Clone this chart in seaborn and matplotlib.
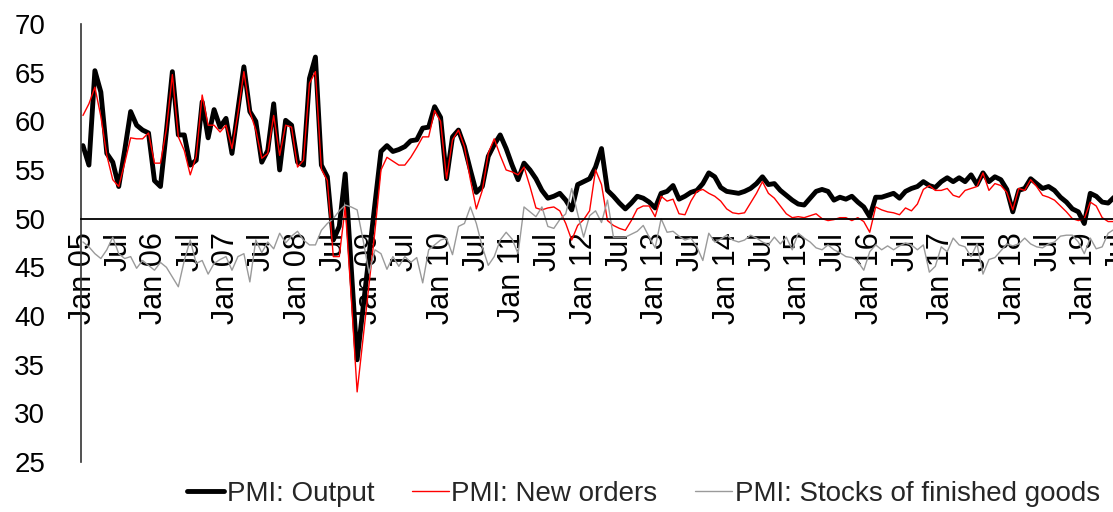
import seaborn as sns
import matplotlib.pyplot as plt
import numpy as np
import pandas as pd

# Monthly PMI readings, Jan 2005 - Jun 2019
output = [
    57.5, 55.5, 65.2, 63.0, 56.7, 55.8, 53.3, 57.0, 61.0, 59.6, 59.1, 58.8,  # 2005
    53.9, 53.3, 59.0, 65.1, 58.6, 58.6, 55.5, 56.0, 62.0, 58.3, 61.2, 59.4,  # 2006
    60.3, 56.7, 61.2, 65.6, 61.0, 60.0, 55.8, 57.0, 61.8, 55.0, 60.1, 59.6,  # 2007
    55.8, 55.5, 64.4, 66.6, 55.5, 54.3, 47.8, 49.2, 54.6, 45.1, 35.5, 40.9,  # 2008
    46.2, 51.6, 56.9, 57.5, 56.9, 57.1, 57.4, 58.0, 58.1, 59.3, 59.4, 61.5,  # 2009
    60.4, 54.1, 58.4, 59.1, 57.4, 55.0, 52.7, 53.3, 56.4, 57.6, 58.6, 57.2,  # 2010
    55.5, 54.0, 55.7, 55.0, 54.1, 52.9, 52.1, 52.3, 52.6, 51.9, 50.9, 53.5,  # 2011
    53.8, 54.1, 55.3, 57.2, 52.9, 52.3, 51.6, 51.0, 51.6, 52.3, 52.1, 51.7,  # 2012
    51.1, 52.6, 52.8, 53.4, 52.0, 52.3, 52.7, 52.9, 53.6, 54.7, 54.3, 53.2,  # 2013
    52.8, 52.7, 52.6, 52.8, 53.1, 53.6, 54.3, 53.5, 53.6, 52.9, 52.4, 51.9,  # 2014
    51.5, 51.4, 52.1, 52.8, 53.0, 52.8, 51.9, 52.2, 52.0, 52.3, 51.7, 51.2,  # 2015
    50.2, 52.2, 52.2, 52.4, 52.6, 52.1, 52.8, 53.1, 53.3, 53.8, 53.4, 53.2,  # 2016
    53.8, 54.2, 53.8, 54.2, 53.8, 54.5, 53.5, 54.7, 53.8, 54.3, 54.0, 53.0,  # 2017
    50.7, 52.9, 53.1, 54.1, 53.6, 53.1, 53.3, 52.9, 52.2, 51.7, 51.0, 50.7,  # 2018
    49.5, 52.6, 52.3, 51.7, 51.6, 52.2,                                      # 2019
]
new_orders = [
    60.6, 61.8, 63.5, 60.5, 56.5, 54.0, 53.3, 55.7, 58.3, 58.2, 58.2, 58.8,
    55.7, 55.7, 59.2, 64.8, 58.4, 57.0, 54.5, 56.4, 62.7, 59.6, 59.6, 58.9,
    59.6, 57.2, 60.8, 65.1, 61.0, 59.1, 56.2, 56.7, 60.6, 56.5, 59.6, 59.4,
    55.3, 56.0, 63.9, 65.1, 55.1, 53.9, 46.1, 46.1, 51.2, 42.0, 32.2, 37.7,
    43.3, 48.8, 55.0, 56.3, 55.9, 55.5, 55.5, 56.3, 57.3, 58.4, 58.4, 61.1,
    60.0, 54.1, 58.1, 59.1, 57.4, 54.0, 51.0, 52.9, 56.7, 58.2, 56.5, 55.0,
    54.8, 54.5, 55.3, 53.3, 51.1, 50.9, 51.1, 51.2, 50.8, 49.5, 47.8, 49.3,
    49.9, 50.8, 55.0, 53.5, 49.8, 49.3, 49.0, 48.8, 49.8, 51.0, 51.3, 51.3,
    50.2, 52.3, 51.8, 52.0, 50.5, 50.4, 51.8, 52.8, 53.0, 52.6, 52.3, 51.8,
    51.0, 50.6, 50.5, 50.6, 51.6, 52.6, 53.8, 52.6, 52.1, 51.3, 50.5, 50.1,
    50.2, 50.1, 50.3, 50.5, 50.0, 49.8, 49.9, 50.1, 50.1, 49.8, 50.1, 49.7,
    48.6, 51.2, 50.9, 50.7, 50.6, 50.4, 51.1, 50.8, 51.5, 53.0, 53.4, 52.9,
    52.9, 53.1, 52.4, 52.2, 52.9, 53.1, 53.3, 54.7, 52.9, 53.6, 53.4, 52.7,
    50.9, 53.1, 52.9, 54.0, 53.3, 52.4, 52.2, 51.9, 51.3, 50.7, 50.0, 49.8,
    50.0, 51.7, 51.3, 50.1, 49.7, 49.7,
]
stocks = [
    47.6, 47.1, 46.4, 45.9, 46.8, 48.1, 46.4, 45.9, 46.1, 44.9, 45.7, 45.2,
    44.7, 45.5, 45.0, 44.0, 43.0, 45.7, 47.8, 45.4, 45.7, 44.3, 45.4, 45.8,
    46.1, 44.7, 46.1, 46.4, 43.5, 47.8, 46.5, 47.6, 46.9, 48.5, 47.5, 48.2,
    48.7, 47.8, 47.3, 47.3, 48.8, 49.5, 50.0, 50.8, 51.4, 51.2, 50.9, 47.8,
    44.4, 46.8, 46.4, 44.8, 46.1, 45.1, 46.1, 45.5, 46.0, 43.4, 46.8, 47.3,
    47.8, 48.0, 46.3, 49.2, 49.5, 51.2, 49.5, 47.1, 45.2, 46.1, 47.8, 48.6,
    47.9, 46.4, 51.2, 50.7, 50.2, 51.2, 49.2, 49.0, 49.9, 50.5, 53.1, 50.5,
    48.1, 50.3, 50.8, 49.6, 51.9, 48.1, 48.1, 48.1, 48.4, 48.7, 49.3, 48.1,
    47.0, 50.0, 48.6, 48.7, 48.2, 47.8, 48.0, 47.1, 45.7, 48.5, 47.6, 47.9,
    48.3, 47.8, 47.6, 47.8, 48.3, 48.0, 47.6, 47.3, 48.1, 47.4, 48.1, 46.8,
    48.5, 48.0, 47.6, 47.0, 46.8, 47.3, 46.8, 46.5, 46.1, 46.0, 45.6, 44.7,
    46.6, 47.3, 46.8, 47.2, 46.8, 47.2, 47.5, 47.3, 46.8, 47.3, 44.5, 45.1,
    47.1, 46.6, 48.0, 47.3, 47.1, 46.1, 47.4, 44.3, 45.8, 46.0, 46.7, 47.4,
    47.2, 47.4, 48.0, 47.4, 47.1, 47.0, 47.4, 47.6, 48.2, 48.3, 48.3, 47.6,
    46.4, 48.0, 46.9, 47.1, 48.5, 48.9,
]
series_names = ["PMI: Output", "PMI: New orders", "PMI: Stocks of finished goods"]

df = pd.DataFrame({"t": np.arange(len(output)),
                   series_names[0]: output,
                   series_names[1]: new_orders,
                   series_names[2]: stocks})

sns.set_theme(style="white")
plt.rcParams['font.family'] = ['Liberation Sans', 'DejaVu Sans']

fig = plt.figure(figsize=(11.13, 5.12), dpi=100)
ax = fig.add_axes([0.0732, 0.0977, 0.9385, 0.8555])

styles = [("#000000", 3.5), ("#ff0000", 1.0), ("#9a9a9a", 1.0)]
for name, (col, lw) in zip(series_names, styles):
    sns.lineplot(data=df, x="t", y=name, color=col, linewidth=lw, label=name, ax=ax)

ax.set_xlim(-0.25, 175)
ax.set_ylim(25, 70)

# axis line through 50 (this resets tick objects, so style ticks afterwards)
for s in ["top", "right"]:
    ax.spines[s].set_visible(False)
ax.spines["bottom"].set_position(("data", 50))
ax.spines["bottom"].set_color("black")
ax.spines["bottom"].set_linewidth(1.3)
ax.spines["left"].set_color("#333333")
ax.spines["left"].set_linewidth(1.2)

# tick labels every six months
tick_pos = list(range(0, 176, 6))
tick_lab = []
for k in tick_pos:
    d = pd.Timestamp(2005 + k // 12, k % 12 + 1, 1)
    tick_lab.append(d.strftime("Jan %y") if d.month == 1 else "Jul")
ax.set_xticks(tick_pos)
ax.set_xticklabels(tick_lab)
ax.set_yticks(range(25, 71, 5))

ax.tick_params(axis="x", length=0, pad=10, labelsize=22, labelrotation=90,
               labelcolor="black")
ax.tick_params(axis="y", direction="in", length=7, width=1.2, pad=26,
               labelsize=20, labelcolor="black", color="#333333")

ax.set_xlabel("")
ax.set_ylabel("")

ax.get_legend().remove()
h, l = ax.get_legend_handles_labels()
fig.legend(h, l, loc="center", bbox_to_anchor=(0.578, 0.035), ncol=3,
           frameon=False, fontsize=20, handlelength=1.33, handletextpad=0.1,
           columnspacing=1.35)

fig.savefig("out.png", dpi=100)
